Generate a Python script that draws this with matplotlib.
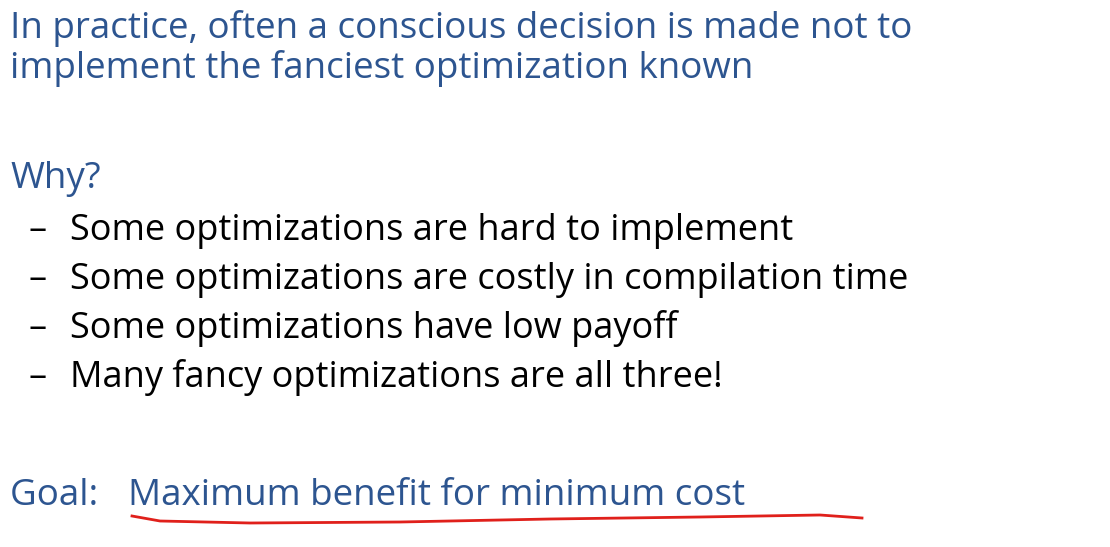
import matplotlib
matplotlib.use("Agg")
import matplotlib.pyplot as plt

title_lines = ["In practice, often a conscious decision is made not to",
               "implement the fanciest optimization known"]
question = "Why?"
bullets = ["Some optimizations are hard to implement",
           "Some optimizations are costly in compilation time",
           "Some optimizations have low payoff",
           "Many fancy optimizations are all three!"]
goal_label = "Goal: "
goal_text = "Maximum benefit for minimum cost"

W, H = 1110, 547
blue = "#2d5590"
plt.rcParams['font.family'] = ['Open Sans', 'DejaVu Sans']

fig = plt.figure(figsize=(W / 100, H / 100), dpi=100)
fig.patch.set_facecolor("white")

def px(x, y):
    return x / W, 1 - y / H

for i, line in enumerate(title_lines):
    fig.text(*px(10, 38 + i * 40), line, color=blue, fontsize=26.5, va='baseline')

fig.text(*px(10, 188), question, color=blue, fontsize=26.5, va='baseline')

for i, b in enumerate(bullets):
    y = 240 + i * 49
    fig.text(*px(28, y), "\u2013", color="black", fontsize=26, va='baseline')
    fig.text(*px(70, y), b, color="black", fontsize=26, va='baseline')

fig.text(*px(10, 505), goal_label, color=blue, fontsize=26.5, va='baseline')
fig.text(*px(128, 505), goal_text, color=blue, fontsize=26.5, va='baseline')

# hand-drawn red underline
ax = fig.add_axes([0, 0, 1, 1])
ax.set_xlim(0, W)
ax.set_ylim(H, 0)
ax.axis('off')
ux = [132, 160, 250, 400, 550, 700, 820, 862]
uy = [516, 521, 523, 522, 519, 517, 515, 518]
ax.plot(ux, uy, color="#e0201b", lw=2)

fig.savefig("out.png", dpi=100)
